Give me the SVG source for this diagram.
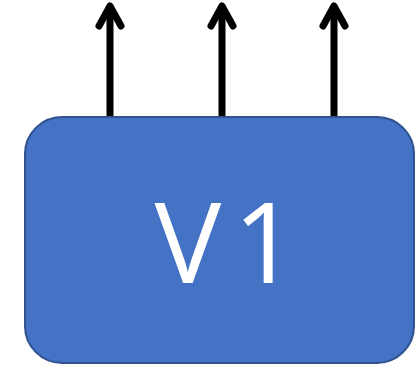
<svg xmlns="http://www.w3.org/2000/svg" width="415" height="369" viewBox="0 0 415 369">
  <defs>
    <style>
      .box { fill: #4472C4; stroke: #2F528F; stroke-width: 2; }
      .label { fill: #FFFFFF; font-family: "Open Sans", "Liberation Sans", sans-serif; font-size: 112px; text-anchor: middle; letter-spacing: 12px; }
      .shaft { stroke: #000000; stroke-width: 7; fill: none; }
      .head { stroke: #000000; stroke-width: 7; fill: none; stroke-linecap: round; stroke-linejoin: round; }
    </style>
  </defs>
  <g id="connectors">
    <line class="shaft" x1="110" y1="117" x2="110" y2="8"/>
    <polyline class="head" points="99,26 110,6 121,26"/>
    <line class="shaft" x1="222" y1="117" x2="222" y2="8"/>
    <polyline class="head" points="211,26 222,6 233,26"/>
    <line class="shaft" x1="334" y1="117" x2="334" y2="8"/>
    <polyline class="head" points="323,26 334,6 345,26"/>
  </g>
  <g id="V1">
    <rect class="box" x="25" y="117" width="389" height="246" rx="37" ry="37"/>
    <text class="label" x="232" y="283">V1</text>
  </g>
</svg>
